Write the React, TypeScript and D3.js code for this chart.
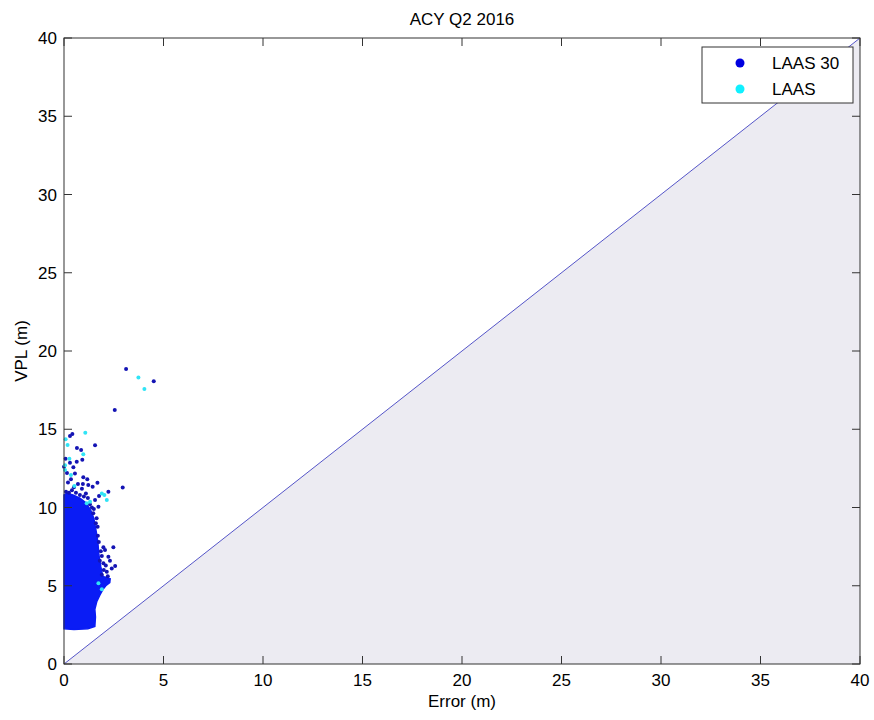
import React from "react";
import * as d3 from "d3";

const xTicks = [0, 5, 10, 15, 20, 25, 30, 35, 40];
const yTicks = [0, 5, 10, 15, 20, 25, 30, 35, 40];
const seriesNames = ["LAAS 30", "LAAS"];

// Outline of the dense LAAS 30 cloud [error, vpl]
const cloudOutline: [number, number][] = [
  [0, 2.25], [0.5, 2.2], [1.2, 2.25], [1.55, 2.4], [1.58, 3.0], [1.55, 3.5],
  [1.65, 4.0], [1.8, 4.4], [1.95, 4.75], [2.1, 5.0], [2.3, 5.2], [2.32, 5.45],
  [1.95, 5.6], [1.85, 6.2], [1.75, 7.0], [1.7, 7.8], [1.6, 8.6], [1.5, 9.3],
  [1.35, 9.8], [1.1, 10.3], [0.8, 10.6], [0.45, 10.8], [0.15, 10.9], [0, 10.8],
];

// Individual LAAS 30 points outside the cloud
const laas30Points: [number, number][] = [
  [3.12, 18.85], [4.51, 18.06], [2.55, 16.23], [0.42, 14.7], [0.3, 14.57],
  [1.56, 13.97], [0.65, 13.8], [0.86, 13.67], [0.92, 13.05], [0.64, 12.93],
  [0.08, 13.12], [0.3, 12.86], [0.47, 12.57], [0.0, 12.6], [0.55, 12.18],
  [0.97, 11.93], [1.17, 11.8], [1.22, 11.44], [1.68, 11.58], [1.44, 11.33],
  [2.95, 11.27], [2.23, 11.01], [1.76, 10.73], [1.56, 10.48], [1.73, 10.05],
  [1.47, 9.63], [1.64, 9.31], [1.69, 8.77], [1.98, 7.46], [2.48, 7.46],
  [2.06, 7.28], [2.23, 6.86], [2.31, 6.6], [1.98, 6.43], [2.57, 6.26],
  [2.4, 6.11], [2.15, 5.9], [0.1, 11.0], [0.25, 10.95], [0.4, 11.1],
  [0.6, 10.95], [0.8, 10.8], [1.0, 10.7], [1.1, 10.9], [0.5, 11.3],
  [0.2, 11.6], [0.7, 11.5], [0.9, 11.2], [1.3, 10.2], [1.4, 10.0],
  [1.5, 9.9], [1.6, 9.0], [1.7, 8.2], [1.75, 7.8], [1.85, 7.2], [1.9, 6.9],
  [1.8, 6.6], [2.1, 6.3], [2.0, 6.0], [1.9, 5.7], [2.2, 5.6], [0.35, 11.8],
  [0.15, 12.2], [1.2, 10.6], [0.95, 11.5],
];

// LAAS points
const laasPoints: [number, number][] = [
  [3.74, 18.3], [4.04, 17.57], [1.07, 14.78], [0.08, 14.36], [0.18, 13.99],
  [0.97, 13.4], [0.27, 13.12], [0.05, 12.4], [0.35, 12.07], [0.52, 11.37],
  [1.9, 10.9], [2.03, 10.8], [2.15, 10.48], [1.14, 10.27], [1.31, 10.37],
  [1.9, 4.77], [1.73, 5.16], [0.05, 12.7],
];

const W = 874;
const H = 720;
const M = { left: 64, right: 14, top: 38, bottom: 56 };
const FONT = "'Liberation Sans', Arial, sans-serif";

export default function App() {
  const x = d3.scaleLinear().domain([0, 40]).range([M.left, W - M.right]);
  const y = d3.scaleLinear().domain([0, 40]).range([H - M.bottom, M.top]);
  const line = d3
    .line<[number, number]>()
    .x((d) => x(d[0]))
    .y((d) => y(d[1]))
    .curve(d3.curveLinearClosed);
  const x0 = x(0), x1 = x(40), y0 = y(0), y1 = y(40);
  const tri: [number, number][] = [[0, 0], [40, 0], [40, 40]];
  const tickLen = 8;
  const axisColor = "#333";

  const legX = 702, legY = 47, legW = 151, legH = 56;

  return (
    <svg
      width={W}
      height={H}
      style={{ position: "absolute", left: 0, top: 0, background: "#fff" }}
      fontFamily={FONT}
    >
      <rect x={0} y={0} width={W} height={H} fill="#fff" />
      <rect x={x0} y={y1} width={x1 - x0} height={y0 - y1} fill="#fff" />
      <path d={line(tri) || ""} fill="#ECEBF2" stroke="none" />
      <line x1={x(0)} y1={y(0)} x2={x(40)} y2={y(40)} stroke="#5555c8" strokeWidth={1} />

      {/* dense cloud */}
      <path d={line(cloudOutline) || ""} fill="#0a1cf5" stroke="#0a1cf5" strokeWidth={1.5} />
      {laas30Points.map((d, i) => (
        <circle key={"a" + i} cx={x(d[0])} cy={y(d[1])} r={2} fill="#1414b4" />
      ))}
      {laasPoints.map((d, i) => (
        <circle key={"b" + i} cx={x(d[0])} cy={y(d[1])} r={2} fill="#30e4f6" />
      ))}

      {/* axes box */}
      <rect x={x0} y={y1} width={x1 - x0} height={y0 - y1} fill="none" stroke={axisColor} strokeWidth={1} />
      {xTicks.map((t) => (
        <g key={"xt" + t}>
          <line x1={x(t)} x2={x(t)} y1={y0} y2={y0 - tickLen} stroke={axisColor} />
          <line x1={x(t)} x2={x(t)} y1={y1} y2={y1 + tickLen} stroke={axisColor} />
          <text x={x(t)} y={y0 + 22} fontSize={17} textAnchor="middle" fill="#000">
            {t}
          </text>
        </g>
      ))}
      {yTicks.map((t) => (
        <g key={"yt" + t}>
          <line x1={x0} x2={x0 + tickLen} y1={y(t)} y2={y(t)} stroke={axisColor} />
          <line x1={x1} x2={x1 - tickLen} y1={y(t)} y2={y(t)} stroke={axisColor} />
          <text x={x0 - 7} y={y(t) + 6} fontSize={17} textAnchor="end" fill="#000">
            {t}
          </text>
        </g>
      ))}

      <text x={(x0 + x1) / 2} y={25} fontSize={17} textAnchor="middle" fill="#000">
        ACY Q2 2016
      </text>
      <text x={(x0 + x1) / 2} y={707} fontSize={17} textAnchor="middle" fill="#000">
        Error (m)
      </text>
      <text
        transform={`translate(27, ${(y0 + y1) / 2}) rotate(-90)`}
        fontSize={17}
        textAnchor="middle"
        fill="#000"
      >
        VPL (m)
      </text>

      {/* legend */}
      <rect x={legX} y={legY} width={legW} height={legH} fill="#fff" stroke={axisColor} />
      {seriesNames.map((name, i) => (
        <g key={name}>
          <circle cx={legX + 38} cy={legY + 16 + i * 26} r={4.5} fill={i === 0 ? "#0000e0" : "#10f0ff"} />
          <text x={legX + 70} y={legY + 22 + i * 26} fontSize={17} fill="#000">
            {name}
          </text>
        </g>
      ))}
    </svg>
  );
}
